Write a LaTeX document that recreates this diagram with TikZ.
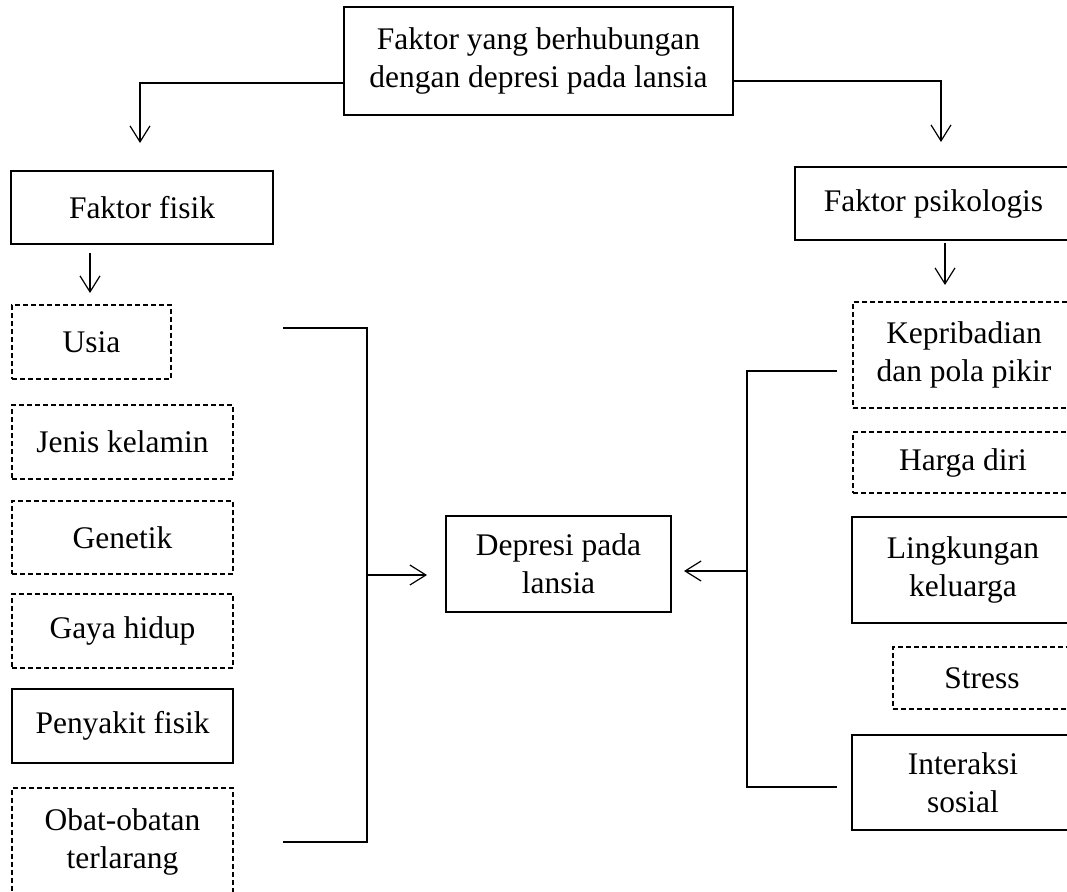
\documentclass[tikz,border=0pt]{standalone}
\usepackage{fontspec}
\setmainfont{Liberation Serif}
\usetikzlibrary{arrows.meta}
\begin{document}
\begin{tikzpicture}[x=0.75pt,y=-0.75pt,
  box/.style={draw=black, line width=0.9pt, inner sep=0pt, align=center,
    font=\fontsize{23.6}{28.5}\selectfont},
  dbox/.style={box, dash pattern=on 3.6pt off 2.4pt, line width=0.8pt},
  conn/.style={line width=0.9pt},
  arr/.style={conn, -{Straight Barb[length=12pt,width=15pt]}}]
\useasboundingbox (0,0) rectangle (1067,892);
\clip (0,0) rectangle (1067,892);
\fill[white] (0,0) rectangle (1067,892);

% top
\node[box, minimum width=291.75pt, minimum height=81pt] (top) at (538.5,61)
  {Faktor yang berhubungan\\dengan depresi pada lansia};
% level 2
\node[box, minimum width=196.5pt, minimum height=54.75pt] (fisik) at (142,207.5) {Faktor fisik};
\node[box, minimum width=207.75pt, minimum height=54.75pt] (psik) at (933.5,203.5) {Faktor psikologis};
% left column
\node[dbox, minimum width=119.25pt, minimum height=55.5pt] (usia) at (91.5,342) {Usia};
\node[dbox, minimum width=165.75pt, minimum height=55.5pt] (jenis) at (122.5,442) {Jenis kelamin};
\node[dbox, minimum width=165.75pt, minimum height=54.75pt] (genetik) at (122.5,537.5) {Genetik};
\node[dbox, minimum width=165.75pt, minimum height=55.5pt] (gaya) at (122.5,631) {Gaya hidup};
\node[box, minimum width=165.75pt, minimum height=55.5pt] (penyakit) at (122.5,726) {Penyakit fisik};
\node[dbox, minimum width=165.75pt, minimum height=81pt] (obat) at (122.5,842) {Obat-obatan\\terlarang};
% centre
\node[box, minimum width=168.75pt, minimum height=72pt] (depresi) at (558.5,564) {Depresi pada\\lansia};
% right column
\node[dbox, minimum width=166.5pt, minimum height=79.5pt] (kepri) at (964,355) {Kepribadian\\dan pola pikir};
\node[dbox, minimum width=165pt, minimum height=45.75pt] (harga) at (963,462.5) {Harga diri};
\node[box, minimum width=166.5pt, minimum height=79.5pt] (lingk) at (963,570) {Lingkungan\\keluarga};
\node[dbox, minimum width=133.5pt, minimum height=46.5pt] (stress) at (982,678) {Stress};
\node[box, minimum width=166.5pt, minimum height=71.25pt] (inter) at (963,782.5) {Interaksi\\sosial};

% connector end points
\coordinate (fisikin) at (140,143);
\coordinate (psikin) at (941,142);
\coordinate (fisikout) at (90,253);
\coordinate (usiain) at (90,293);
\coordinate (psikout) at (945,243);
\coordinate (kepriin) at (945,285);
\coordinate (lt) at (283,328);
\coordinate (lb) at (283,842);
\coordinate (lx) at (367,575);
\coordinate (depin) at (427,575);
\coordinate (rt) at (837,371);
\coordinate (rb) at (837,787);
\coordinate (rx) at (747,571);
\coordinate (depin2) at (684,571);

\draw[arr] ([yshift=-16.5pt]top.west) -| (fisikin);
\draw[arr] ([yshift=-15pt]top.east) -| (psikin);
\draw[arr] (fisikout) -- (usiain);
\draw[arr] (psikout) -- (kepriin);

\draw[conn] (lt) -| (lx |- lb) -- (lb);
\draw[arr] (lx) -- (depin);
\draw[conn] (rt) -| (rx |- rb) -- (rb);
\draw[arr] (rx) -- (depin2);
\end{tikzpicture}
\end{document}
